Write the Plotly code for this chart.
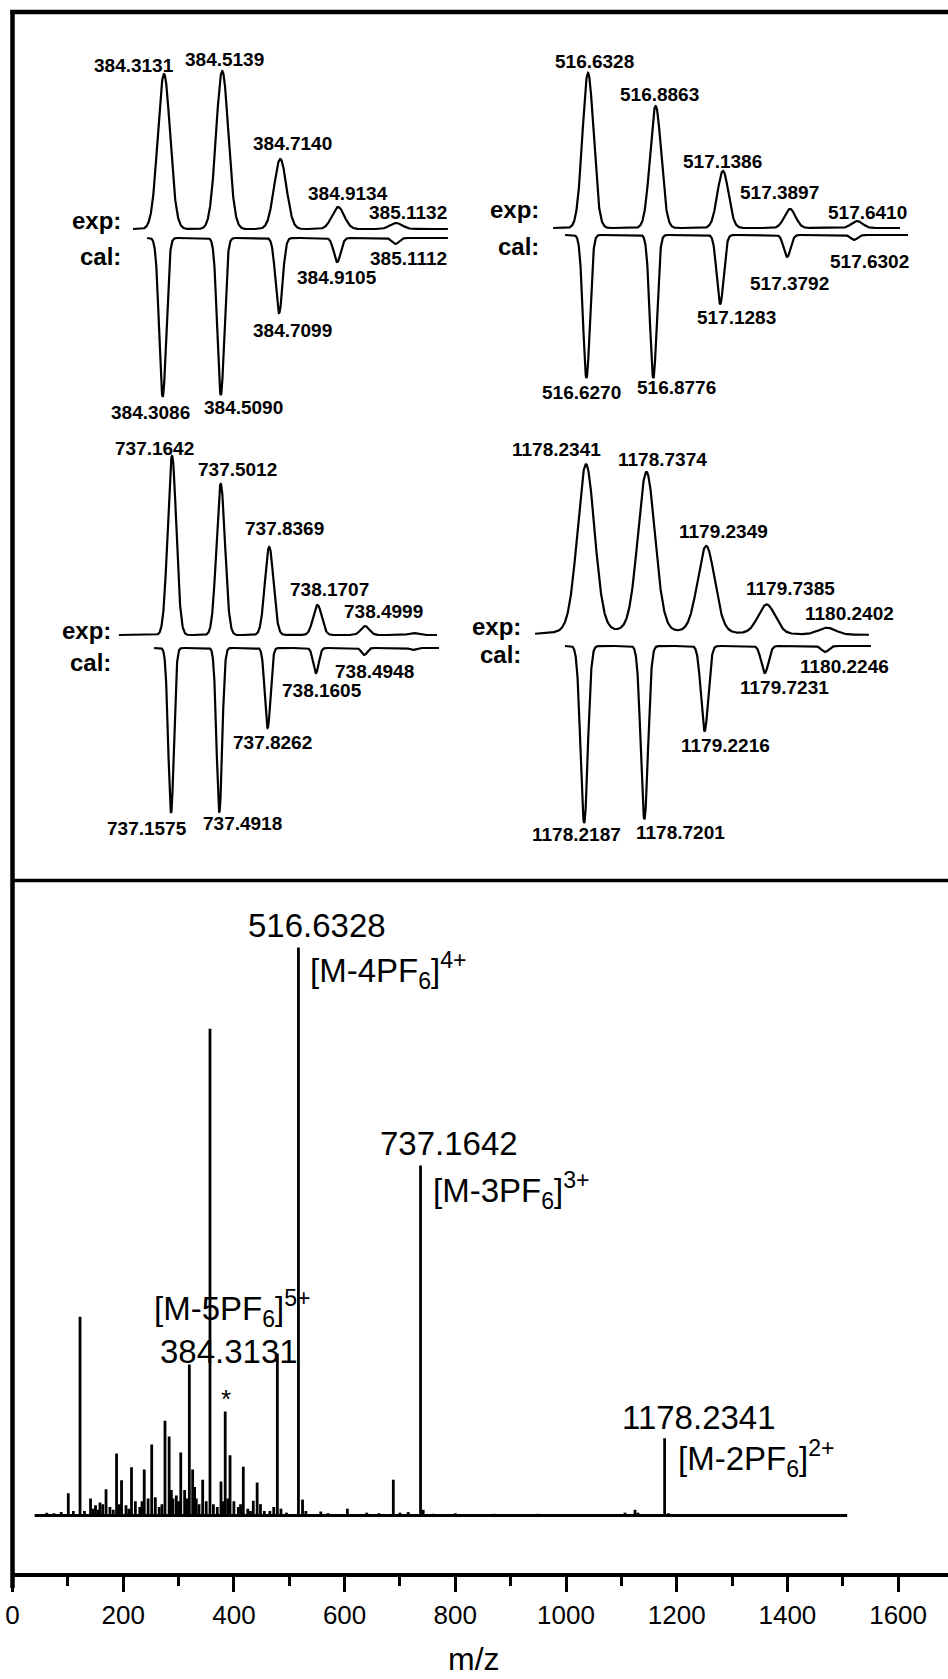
import numpy as np
import plotly.graph_objects as go

W, H = 948, 1679

# ======================= DATA =======================
# Full-range spectrum (stick peaks): m/z and relative intensity (%)
ms_mz = [62, 75, 88, 100.8, 110, 122, 130, 141, 146, 150, 155, 158, 163, 169, 176, 182,
         188, 193, 197, 205, 210, 215, 222, 230, 234, 238, 245, 251.5, 258, 265, 270,
         275.5, 283, 287, 290, 296, 300, 304, 311, 315, 319.5, 325.5, 329, 332, 337,
         343.6, 350, 356.8, 363, 370, 376.7, 380, 384.3, 389, 393, 400, 408, 412, 417,
         425, 430, 435, 442, 448, 455, 465, 472, 478.5, 485, 495, 516.6, 524, 530, 557,
         570, 605, 640, 662, 688, 700, 715, 737.2, 742, 760, 800, 870, 949, 1106.6,
         1124.7, 1130, 1178.2, 1185, 1300]
ms_int = [0.5, 0.4, 0.6, 3.9, 0.8, 35.0, 0.8, 3.0, 1.2, 1.8, 1.0, 2.3, 2.0, 4.6, 1.5, 1.0,
          10.9, 2.0, 6.2, 1.8, 1.2, 8.5, 2.5, 1.5, 2.5, 8.1, 3.0, 12.5, 3.2, 1.5, 2.0,
          16.7, 13.9, 4.5, 3.0, 3.5, 2.5, 11.1, 4.5, 3.0, 26.6, 8.1, 5.0, 3.0, 2.0,
          6.3, 2.5, 85.7, 2.0, 1.5, 6.0, 2.5, 18.3, 3.0, 10.6, 2.5, 1.5, 2.0, 8.6,
          1.2, 0.8, 2.6, 5.8, 2.0, 0.8, 0.8, 1.5, 28.5, 1.2, 0.5, 100.0, 2.8, 0.8, 0.7,
          0.4, 1.2, 0.5, 0.4, 6.3, 0.5, 0.6, 61.6, 1.0, 0.3, 0.4, 0.3, 0.3, 0.5,
          1.0, 0.5, 13.6, 0.4, 0.2]
ms_window = [40, 1508]

# Assigned ions in the full spectrum
ion_mz = [384.3131, 516.6328, 737.1642, 1178.2341]
ion_stick_mz = [384.3, 516.6, 737.2, 1178.2]
ion_names = ["[M-5PF<sub>6</sub>]<sup>5+</sup>", "[M-4PF<sub>6</sub>]<sup>4+</sup>",
             "[M-3PF<sub>6</sub>]<sup>3+</sup>", "[M-2PF<sub>6</sub>]<sup>2+</sup>"]

x_ticks = [0, 200, 400, 600, 800, 1000, 1200, 1400, 1600]

# Isotope pattern insets: experimental (exp) and calculated (cal)
i1_exp_mz = [384.3131, 384.5139, 384.7140, 384.9134, 385.1132]
i1_exp_int = [98.1, 100.0, 44.3, 13.9, 3.8]
i1_cal_mz = [384.3086, 384.5090, 384.7099, 384.9105, 385.1112]
i1_cal_int = [100.6, 99.4, 47.5, 15.2, 3.8]
i1_exp_win = [384.206, 385.292]
i1_cal_win = [384.255, 385.292]

i2_exp_mz = [516.6328, 516.8863, 517.1386, 517.3897, 517.6410]
i2_exp_int = [100.0, 78.7, 36.8, 12.3, 4.5]
i2_cal_mz = [516.6270, 516.8776, 517.1283, 517.3792, 517.6302]
i2_cal_int = [92.3, 92.3, 44.5, 14.2, 3.2]
i2_exp_win = [516.502, 517.802]
i2_cal_win = [516.547, 517.832]

i3_exp_mz = [737.1642, 737.5012, 737.8369, 738.1707, 738.4999, 738.832]
i3_exp_int = [100.0, 84.4, 49.2, 16.8, 5.0, 1.1]
i3_cal_mz = [737.1575, 737.4918, 737.8262, 738.1605, 738.4948, 738.829]
i3_cal_int = [92.2, 91.6, 44.7, 14.0, 3.9, 1.1]
i3_exp_win = [736.797, 738.998]
i3_cal_win = [737.040, 739.012]

i4_exp_mz = [1178.2341, 1178.7374, 1179.2349, 1179.7385, 1180.2402]
i4_exp_int = [100.0, 95.3, 51.8, 17.6, 4.1]
i4_cal_mz = [1178.2187, 1178.7201, 1179.2216, 1179.7231, 1180.2246]
i4_cal_int = [104.1, 101.8, 50.0, 15.9, 3.5]
i4_exp_win = [1177.810, 1180.590]
i4_cal_win = [1178.059, 1180.607]

# ======================= STYLE / LAYOUT =======================
FONT = "Liberation Sans, Arial, sans-serif"

def px_x(p):
    return p / W

def px_y(p):
    return 1 - p / H

insets = [
    dict(exp=(i1_exp_mz, i1_exp_int, i1_exp_win), cal=(i1_cal_mz, i1_cal_int, i1_cal_win),
         rect=(20, 470, 20, 440), ref=(384.3131, 164), ppm=290.0, base=229, ppp=1.58, coff=9,
         fe=0.050, fc=0.028, eta=0.0,
         exp_off=[(-30, -9), (2, -12), (12, -16), (10, -14), (12, -11)],
         cal_off=[(-12, 16), (23, 12), (13, 17), (0, 15), (13, 14)],
         lab=(123, -9, 19)),
    dict(exp=(i2_exp_mz, i2_exp_int, i2_exp_win), cal=(i2_cal_mz, i2_cal_int, i2_cal_win),
         rect=(480, 940, 20, 440), ref=(516.6328, 588), ppm=266.8, base=228, ppp=1.55, coff=7,
         fe=0.049, fc=0.030, eta=0.0,
         exp_off=[(6, -12), (4, -12), (0, -9), (-10, -16), (11, -9)],
         cal_off=[(-5, 14), (23, 9), (16, 14), (2, 26), (15, 22)],
         lab=(541, -18, 11)),
    dict(exp=(i3_exp_mz, i3_exp_int, i3_exp_win), cal=(i3_cal_mz, i3_cal_int, i3_cal_win),
         rect=(20, 470, 430, 870), ref=(737.1642, 172), ppm=144.5, base=635, ppp=1.79, coff=13,
         fe=0.070, fc=0.045, eta=0.0,
         exp_off=[(-18, -8), (17, -14), (15, -18), (12, -15), (18, -15)],
         cal_off=[(-24, 15), (23, 12), (5, 14), (6, 17), (10, 17)],
         lab=(113, -5, 14)),
    dict(exp=(i4_exp_mz, i4_exp_int, i4_exp_win), cal=(i4_cal_mz, i4_cal_int, i4_cal_win),
         rect=(480, 940, 430, 870), ref=(1178.2341, 586), ppm=120.1, base=635, ppp=1.70, coff=11,
         fe=0.170, fc=0.070, eta=0.15,
         exp_off=[(-30, -16), (16, -13), (17, -15), (24, -17), (23, -15)],
         cal_off=[(-8, 12), (36, 13), (21, 14), (20, 14), (19, 15)],
         lab=(523, -9, 9)),
]


def profile(x, centers, heights, fwhm, eta):
    x = np.asarray(x)
    y = np.zeros_like(x)
    s = fwhm / 2.3548
    g = fwhm / 2
    for c, h in zip(centers, heights):
        gauss = np.exp(-0.5 * ((x - c) / s) ** 2)
        lor = 1 / (1 + ((x - c) / g) ** 2)
        y += h * ((1 - eta) * gauss + eta * lor)
    return y


fig = go.Figure()
annotations = []
layout_axes = {}

for k, ins in enumerate(insets):
    n = k + 2
    xa, ya = f"x{n}", f"y{n}"
    x0, x1, yt, yb = ins["rect"]
    mref, pref = ins["ref"]
    ppm, base, ppp = ins["ppm"], ins["base"], ins["ppp"]
    xr = [mref + (x0 - pref) / ppm, mref + (x1 - pref) / ppm]
    yr = [(base - yb) / ppp, (base - yt) / ppp]
    layout_axes[f"xaxis{n}"] = dict(domain=[px_x(x0), px_x(x1)], range=xr, visible=False,
                                    anchor=ya, fixedrange=True, automargin=False)
    layout_axes[f"yaxis{n}"] = dict(domain=[px_y(yb), px_y(yt)], range=yr, visible=False,
                                    anchor=xa, fixedrange=True, automargin=False)
    cal_shift = ins["coff"] / ppp

    emz, eint, ewin = ins["exp"]
    cmz, cint, cwin = ins["cal"]
    xe = np.linspace(ewin[0], ewin[1], 1500)
    ye = profile(xe, emz, eint, ins["fe"], ins["eta"])
    xc = np.linspace(cwin[0], cwin[1], 1500)
    yc = -cal_shift - profile(xc, cmz, cint, ins["fc"], 0.0)
    fig.add_trace(go.Scatter(x=xe, y=ye, mode="lines", xaxis=xa, yaxis=ya,
                             line=dict(color="black", width=2.2), hoverinfo="skip",
                             showlegend=False))
    fig.add_trace(go.Scatter(x=xc, y=yc, mode="lines", xaxis=xa, yaxis=ya,
                             line=dict(color="black", width=2.2), hoverinfo="skip",
                             showlegend=False))
    for i in range(5):
        dx, dy = ins["exp_off"][i]
        annotations.append(dict(x=emz[i], y=eint[i], xref=xa, yref=ya,
                                text=f"<b>{emz[i]:.4f}</b>", showarrow=False,
                                xanchor="center", yanchor="middle", xshift=dx, yshift=-dy,
                                font=dict(family=FONT, size=19, color="black")))
        dx, dy = ins["cal_off"][i]
        annotations.append(dict(x=cmz[i], y=-cal_shift - cint[i], xref=xa, yref=ya,
                                text=f"<b>{cmz[i]:.4f}</b>", showarrow=False,
                                xanchor="center", yanchor="middle", xshift=dx, yshift=-dy,
                                font=dict(family=FONT, size=19, color="black")))
    lx, ldy_e, ldy_c = ins["lab"]
    annotations.append(dict(x=px_x(lx), y=px_y(base + ldy_e), xref="paper", yref="paper",
                            text="<b>exp:</b>", showarrow=False, xanchor="right",
                            yanchor="middle",
                            font=dict(family=FONT, size=24, color="black")))
    annotations.append(dict(x=px_x(lx), y=px_y(base + ins["coff"] + ldy_c), xref="paper",
                            yref="paper", text="<b>cal:</b>", showarrow=False,
                            xanchor="right", yanchor="middle",
                            font=dict(family=FONT, size=24, color="black")))

# ---------------- main spectrum ----------------
sx, sy = [], []
for m, h in zip(ms_mz, ms_int):
    sx += [m, m, None]
    sy += [0, h, None]
fig.add_trace(go.Scatter(x=sx, y=sy, mode="lines", line=dict(color="black", width=2.8),
                         hoverinfo="skip", showlegend=False))
fig.add_trace(go.Scatter(x=ms_window, y=[0, 0], mode="lines",
                         line=dict(color="black", width=3), hoverinfo="skip",
                         showlegend=False))

AX_Y = 1573.3
TOP_Y = 880.5
BASE_Y = 1515.5
PPU = 5.68
X0_PX = 12.5
PPM_MAIN = 0.5535
main_xr = [0, (W - X0_PX) / PPM_MAIN]
main_yr = [-(AX_Y - BASE_Y) / PPU, (BASE_Y - TOP_Y) / PPU]

ion_val_off = [(4, -60), (19, -22), (28, -22), (34, -21)]
ion_name_off = [(-73, -103), (10, 23), (10, 25), (11, 20)]
for i in range(4):
    h = ms_int[ms_mz.index(ion_stick_mz[i])]
    dx, dy = ion_val_off[i]
    annotations.append(dict(x=ion_stick_mz[i], y=h, xref="x", yref="y",
                            text=f"{ion_mz[i]:.4f}", showarrow=False, xanchor="center",
                            yanchor="middle", xshift=dx, yshift=-dy,
                            font=dict(family=FONT, size=33, color="black")))
    dx, dy = ion_name_off[i]
    annotations.append(dict(x=ion_stick_mz[i], y=h, xref="x", yref="y",
                            text=ion_names[i], showarrow=False, xanchor="left",
                            yanchor="middle", xshift=dx, yshift=-dy,
                            font=dict(family=FONT, size=33, color="black")))
annotations.append(dict(x=384.3, y=ms_int[ms_mz.index(384.3)], xref="x", yref="y", text="*",
                        showarrow=False, xanchor="center", yanchor="middle", xshift=1,
                        yshift=13, font=dict(family=FONT, size=26, color="black")))
annotations.append(dict(x=474 / W, y=0, xref="paper", yref="paper", text="m/z",
                        showarrow=False, xanchor="center", yanchor="bottom",
                        font=dict(family=FONT, size=32, color="black")))

shapes = [
    dict(type="line", xref="paper", yref="paper", x0=px_x(X0_PX), x1=px_x(X0_PX),
         y0=px_y(10), y1=px_y(1588), line=dict(color="black", width=4.5)),
    dict(type="line", xref="paper", yref="paper", x0=px_x(10.5), x1=1,
         y0=px_y(12), y1=px_y(12), line=dict(color="black", width=4.5)),
    dict(type="line", xref="paper", yref="paper", x0=px_x(X0_PX), x1=1,
         y0=px_y(TOP_Y), y1=px_y(TOP_Y), line=dict(color="black", width=3.5)),
]

fig.update_layout(
    width=W, height=H, autosize=False,
    margin=dict(l=0, r=0, t=0, b=0, pad=0, autoexpand=False),
    paper_bgcolor="white", plot_bgcolor="rgba(0,0,0,0)",
    showlegend=False,
    xaxis=dict(domain=[px_x(X0_PX), 1], range=main_xr, showgrid=False, zeroline=False,
               showline=True, linecolor="black", linewidth=3.5,
               ticks="outside", ticklen=15, tickwidth=3, tickcolor="black",
               tickvals=x_ticks, ticktext=[str(v) for v in x_ticks],
               tickfont=dict(family=FONT, size=26, color="black"),
               ticklabelstandoff=1, automargin=False,
               minor=dict(dtick=100, tick0=0, ticks="outside", ticklen=9, tickwidth=3,
                          tickcolor="black"),
               anchor="y", fixedrange=True),
    yaxis=dict(domain=[px_y(AX_Y), px_y(TOP_Y)], range=main_yr, visible=False,
               anchor="x", fixedrange=True, automargin=False),
    annotations=annotations,
    shapes=shapes,
    **layout_axes,
)

fig.write_html("out.html")
